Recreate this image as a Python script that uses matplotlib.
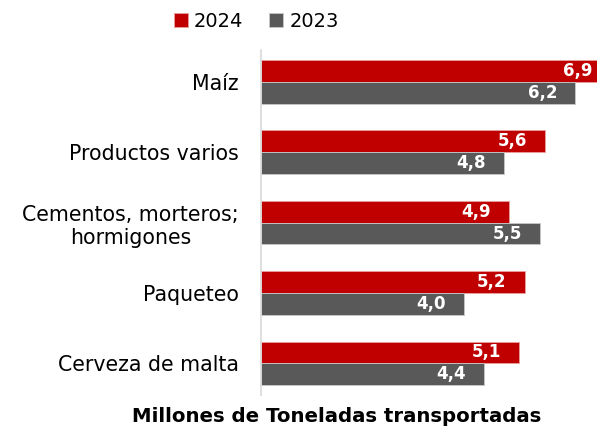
import matplotlib
matplotlib.use('Agg')
import matplotlib.pyplot as plt
import numpy as np

# ── Data ──────────────────────────────────────────────────────────────────────
categories = ['Maíz', 'Productos varios', 'Cementos, morteros;\nhormigones',
              'Paqueteo', 'Cerveza de malta']
vals_2024 = [6.9, 5.6, 4.9, 5.2, 5.1]
vals_2023 = [6.2, 4.8, 5.5, 4.0, 4.4]

RED  = '#C00000'
GRAY = '#595959'

# ── Figure ────────────────────────────────────────────────────────────────────
fig = plt.figure(figsize=(5.97, 4.32), dpi=100)
ax  = fig.add_axes([0.437, 0.0856, 0.563, 0.798])

y = np.arange(len(categories))
h = 0.31

b24 = ax.barh(y - h / 2, vals_2024, height=h, color=RED,  edgecolor='#e8a0a0',
              linewidth=0.6, label='2024')
b23 = ax.barh(y + h / 2, vals_2023, height=h, color=GRAY, edgecolor='#c8c8c8',
              linewidth=0.6, label='2023')

for bars, vals in ((b24, vals_2024), (b23, vals_2023)):
    for bar, v in zip(bars, vals):
        ax.annotate(f'{v:.1f}'.replace('.', ','),
                    xy=(v, bar.get_y() + bar.get_height() / 2),
                    xytext=(-13, 0), textcoords='offset points',
                    ha='right', va='center', color='white',
                    fontsize=12, fontweight='bold', annotation_clip=False)

ax.set_xlim(0, 6.63)
ax.set_ylim(len(categories) - 0.55, -0.45)
ax.set_yticks(y)
ax.set_yticklabels(categories, fontsize=14.8)
for lbl in ax.get_yticklabels():
    lbl.set_multialignment('center')
ax.tick_params(axis='y', length=0, pad=16)
ax.set_xticks([])

for s in ('top', 'right', 'bottom'):
    ax.spines[s].set_visible(False)
ax.spines['left'].set_color('#d9d9d9')
ax.spines['left'].set_linewidth(1.2)

fig.legend(handles=[b24, b23], labels=['2024', '2023'], loc='center',
           bbox_to_anchor=(0.429, 0.951), ncol=2, frameon=False, fontsize=14,
           handlelength=0.75, handleheight=0.75, handletextpad=0.3,
           columnspacing=1.3)

fig.text(0.564, 0.035, 'Millones de Toneladas transportadas', ha='center',
         va='center', fontsize=14.2, fontweight='bold')

fig.savefig('out.png', dpi=100)
